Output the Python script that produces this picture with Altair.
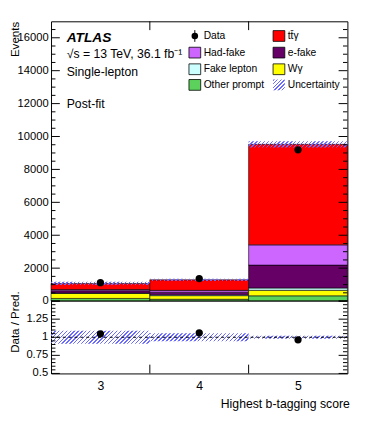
import math
import altair as alt
import numpy as np
import pandas as pd

# ---------------- data ----------------
bin_labels = [3, 4, 5]
bin_lo = [2.5, 3.5, 4.5]
bin_hi = [3.5, 4.5, 5.5]

processes = ["Other prompt", "W\u03b3", "Fake lepton", "e-fake", "Had-fake", "t\u0074\u0304\u03b3"]
proc_colors = ["#5cd25c", "#ffff00", "#ccffff", "#660066", "#cc66ff", "#ff0000"]

other_prompt = [160, 110, 320]
w_gamma = [300, 220, 335]
fake_lepton = [30, 50, 140]
e_fake = [140, 160, 1390]
had_fake = [70, 110, 1230]
ttgamma = [370, 640, 6110]
data_counts = [1120, 1370, 9190]
unc_rel = [0.09, 0.055, 0.02]

series = [other_prompt, w_gamma, fake_lepton, e_fake, had_fake, ttgamma]

y_major = list(range(0, 16001, 2000))
y_minor = [v for v in range(500, 17000, 500) if v % 2000 != 0]
r_labels = [0.5, 0.75, 1.0, 1.25]
r_label_text = ["0.5", "0.75", "1", "1.25"]
r_major = [0.5, 0.75, 1.0, 1.25, 1.5]
r_minor = [round(0.5 + 0.05 * i, 2) for i in range(1, 20) if (i % 5) != 0]
x_edges = [3.5, 4.5]

# ---------------- layout (style) ----------------
PW = 303
PH_MAIN = 286
PH_RATIO = 74
PH = PH_MAIN + PH_RATIO
Y_MAX = 17000
Y_MIN = -Y_MAX * PH_RATIO / PH_MAIN
R_MIN = 0.5
R_MAX = 0.5 + 1.0 * PH / PH_RATIO
MAJ = 9
MIN_ = 4.5
FONT = "Liberation Sans"
HATCH = "#6a6aff"
LBL = 11.4

xs = alt.Scale(domain=[2.5, 5.5], nice=False, zero=False)
ys_main = alt.Scale(domain=[Y_MIN, Y_MAX], nice=False, zero=False)
ys_ratio = alt.Scale(domain=[R_MIN, R_MAX], nice=False, zero=False)

XT = "Highest b-tagging score"
xaxis = alt.Axis(values=bin_labels, ticks=False, domain=False, grid=False,
                 labelFontSize=12.5, labelPadding=6, labelFlush=False, labelColor="black",
                 labelOverlap=False,
                 title=XT, titleFontSize=12.5, titleFontWeight="normal", titleColor="black",
                 titleAnchor="end", titleAlign="right", titleX=PW + 2, titleY=35,
                 titleBaseline="alphabetic")
yaxis_main = alt.Axis(values=y_major, format="d", ticks=False, domain=False, grid=False,
                      labelFontSize=LBL, labelPadding=3, labelFlush=False, labelColor="black",
                      labelOverlap=False,
                      orient="left", title="Events", titleFontSize=11.8, titleFontWeight="normal",
                      titleColor="black", titleAngle=270, titleAlign="right", titleBaseline="top",
                      titleX=-42, titleY=0)
yaxis_ratio = alt.Axis(values=r_labels, labels=False, ticks=False, domain=False, grid=False,
                       orient="left", title="Data / Pred.", titleFontSize=11.8, titleFontWeight="normal",
                       titleColor="black", titleAngle=270, titleAlign="center", titleBaseline="top",
                       titleX=-42, titleY=307)


def X(field):
    return alt.X(field, type="quantitative", scale=xs, axis=xaxis, title=XT)


def YM(field):
    return alt.Y(field, type="quantitative", scale=ys_main, axis=yaxis_main, title="Events")


def YR(field):
    return alt.Y(field, type="quantitative", scale=ys_ratio, axis=yaxis_ratio, title="Data / Pred.")


def hatch(w, h, spacing=4.0, frac=0.38, color=HATCH):
    r = h / w
    L = (1 + r) / (1 + r * r)
    n = max(1, int(round((w + h) / spacing)))
    clear = "rgba(255,255,255,0)"
    stops = []
    for i in range(n):
        a, b, c = i / n, (i + frac) / n, (i + 1) / n
        stops += [alt.GradientStop(offset=a, color=color), alt.GradientStop(offset=b, color=color),
                  alt.GradientStop(offset=b, color=clear), alt.GradientStop(offset=c, color=clear)]
    return alt.LinearGradient(gradient="linear", stops=stops, x1=0, y1=0, x2=L, y2=L * r)


one = pd.DataFrame({"k": [0]})

# ---------------- tables ----------------
rows = []
totals = []
for b in range(3):
    cum = 0
    for p, vals in zip(processes, series):
        rows.append(dict(lo=bin_lo[b], hi=bin_hi[b], y0=cum, y1=cum + vals[b], process=p))
        cum += vals[b]
    totals.append(cum)
stack_df = pd.DataFrame(rows)

pts = pd.DataFrame({"x": bin_labels, "data": data_counts,
                    "ratio": [d / t for d, t in zip(data_counts, totals)]})

# ---------------- main panel ----------------
bars = alt.Chart(stack_df).mark_rect(stroke="black", strokeWidth=0.6).encode(
    x=X("lo"), x2="hi", y=YM("y0"), y2="y1",
    fill=alt.Fill("process:N", scale=alt.Scale(domain=processes, range=proc_colors), legend=None))

main_layers = [bars]
ratio_layers = []
bw = PW / 3.0
for b in range(3):
    t = totals[b]
    dfb = pd.DataFrame({"lo": [bin_lo[b]], "hi": [bin_hi[b]],
                        "lower": [t * (1 - unc_rel[b])], "upper": [t * (1 + unc_rel[b])],
                        "rlo": [1 - unc_rel[b]], "rhi": [1 + unc_rel[b]]})
    hm = 2 * unc_rel[b] * t * PH_MAIN / Y_MAX
    hr = 2 * unc_rel[b] * PH_RATIO
    main_layers.append(alt.Chart(dfb).mark_rect(fill=hatch(bw, hm)).encode(
        x=X("lo"), x2="hi", y=YM("lower"), y2="upper"))
    ratio_layers.append(alt.Chart(dfb).mark_rect(fill=hatch(bw, hr)).encode(
        x=X("lo"), x2="hi", y=YR("rlo"), y2="rhi"))

main_layers.append(alt.Chart(pts).mark_circle(size=55, color="black", opacity=1).encode(
    x=X("x"), y=YM("data")))

# ticks main panel
ym_maj = pd.DataFrame({"v": y_major})
ym_min = pd.DataFrame({"v": y_minor})
for dfv, ln in ((ym_maj, MAJ), (ym_min, MIN_)):
    main_layers.append(alt.Chart(dfv).mark_rule(color="black", strokeWidth=1).encode(
        x=alt.value(0), x2=alt.value(ln), y=YM("v")))
    main_layers.append(alt.Chart(dfv).mark_rule(color="black", strokeWidth=1).encode(
        x=alt.value(PW), x2=alt.value(PW - ln), y=YM("v")))
xe = pd.DataFrame({"x": x_edges})
main_layers.append(alt.Chart(xe).mark_rule(color="black", strokeWidth=1).encode(
    x=X("x"), y=alt.value(0), y2=alt.value(MAJ)))
main_layers.append(alt.Chart(pd.DataFrame({"v": [0]})).mark_rule(color="black", strokeWidth=1).encode(
    x=alt.value(0), x2=alt.value(PW), y=YM("v")))

# annotations
ann = [("ATLAS", 17, 14, "bold", "italic"),
       ("\u221as = 13 TeV, 36.1  fb\u207b\u00b9", 34, 12.5, "normal", "normal"),
       ("Single-lepton", 52, 12.5, "normal", "normal"),
       ("Post-fit", 85, 12.5, "normal", "normal")]
for txt, yy, fs, fw, fst in ann:
    main_layers.append(alt.Chart(one).mark_text(text=txt, align="left", baseline="middle",
                                                fontSize=fs, fontWeight=fw, fontStyle=fst,
                                                color="black").encode(
        x=alt.value(16), y=alt.value(yy)))

# legend
leg_rows_y = [15, 32, 49, 65]
col1 = ["Data", "Had-fake", "Fake lepton", "Other prompt"]
col2 = ["t\u0074\u0304\u03b3", "e-fake", "W\u03b3", "Uncertainty"]
cmap = dict(zip(processes, proc_colors))
for col, (sx0, sx1, tx) in zip((col1, col2), ((141, 153, 156), (227, 239, 242))):
    for name, yy in zip(col, leg_rows_y):
        if name == "Data":
            cx = (sx0 + sx1) / 2
            main_layers.append(alt.Chart(one).mark_rule(color="black", strokeWidth=1).encode(
                x=alt.value(cx), y=alt.value(yy - 6), y2=alt.value(yy + 6)))
            main_layers.append(alt.Chart(one).mark_circle(size=45, color="black", opacity=1).encode(
                x=alt.value(cx), y=alt.value(yy)))
        elif name == "Uncertainty":
            main_layers.append(alt.Chart(one).mark_rect(fill=hatch(12, 11)).encode(
                x=alt.value(sx0), x2=alt.value(sx1), y=alt.value(yy - 5.5), y2=alt.value(yy + 5.5)))
        else:
            main_layers.append(alt.Chart(one).mark_rect(fill=cmap[name], stroke="black",
                                                        strokeWidth=0.8).encode(
                x=alt.value(sx0), x2=alt.value(sx1), y=alt.value(yy - 5.5), y2=alt.value(yy + 5.5)))
        main_layers.append(alt.Chart(one).mark_text(text=name, align="left", baseline="middle",
                                                    fontSize=10.5, color="black").encode(
            x=alt.value(tx), y=alt.value(yy)))

# ---------------- ratio panel ----------------
ratio_layers.append(alt.Chart(pd.DataFrame({"v": [1.0]})).mark_rule(
    color="black", strokeWidth=1, strokeDash=[3, 3]).encode(
    x=alt.value(0), x2=alt.value(PW), y=YR("v")))
ratio_layers.append(alt.Chart(pts).mark_circle(size=55, color="black", opacity=1).encode(
    x=X("x"), y=YR("ratio")))
rm_maj = pd.DataFrame({"v": r_major})
rm_min = pd.DataFrame({"v": r_minor})
for dfv, ln in ((rm_maj, MAJ), (rm_min, MIN_)):
    ratio_layers.append(alt.Chart(dfv).mark_rule(color="black", strokeWidth=1).encode(
        x=alt.value(0), x2=alt.value(ln), y=YR("v")))
    ratio_layers.append(alt.Chart(dfv).mark_rule(color="black", strokeWidth=1).encode(
        x=alt.value(PW), x2=alt.value(PW - ln), y=YR("v")))
ratio_layers.append(alt.Chart(xe).mark_rule(color="black", strokeWidth=1).encode(
    x=X("x"), y=alt.value(PH), y2=alt.value(PH - MAJ)))
rl_df = pd.DataFrame({"v": r_labels, "t": r_label_text})
ratio_layers.append(alt.Chart(rl_df).mark_text(align="right", baseline="middle", fontSize=LBL,
                                               color="black").encode(
    x=alt.value(-3), y=YR("v"), text="t:N"))

main = alt.layer(*main_layers)
ratio = alt.layer(*ratio_layers)

chart = alt.layer(main, ratio).resolve_scale(y="independent").properties(
    width=PW, height=PH,
    autosize=alt.AutoSizeParams(type="none"),
    padding={"left": 44, "top": 9, "right": 19, "bottom": 44},
).configure(font=FONT).configure_view(stroke="black", strokeWidth=1)

chart.save("out.html", embed_options={"renderer": "svg", "actions": False})
